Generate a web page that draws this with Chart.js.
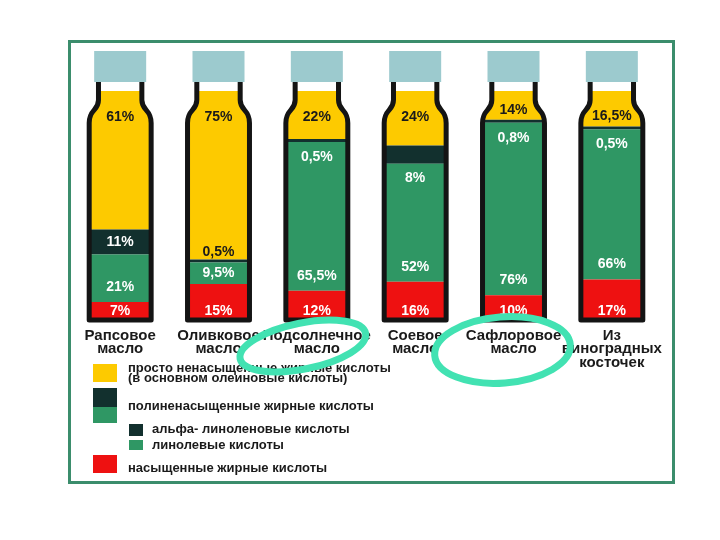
<!DOCTYPE html>
<html>
<head>
<meta charset="utf-8">
<script src="https://cdn.jsdelivr.net/npm/chart.js@4.4.0/dist/chart.umd.min.js"></script>
<style>
  html, body { margin: 0; padding: 0; background: #fff; }
  #wrap { position: relative; width: 720px; height: 540px; }
  #frame {
    position: absolute; left: 68px; top: 40px; width: 607px; height: 444px;
    border: 3px solid #3b8d6c; box-sizing: border-box;
  }
  #chart { position: absolute; left: 0; top: 0; }
</style>
</head>
<body>
<div id="wrap">
  <div id="frame"></div>
  <canvas id="chart" width="720" height="540"></canvas>
</div>
<script>
// categories and values (percent of fatty acids)
const categories = [
  ["Рапсовое", "масло"],
  ["Оливковое", "масло"],
  ["Подсолнечное", "масло"],
  ["Соевое", "масло"],
  ["Сафлоровое", "масло"],
  ["Из", "виноградных", "косточек"]
];
const mono = [61, 75, 22, 24, 14, 16.5];
const alpha = [11, 0.5, 0.5, 8, 0.8, 0.5];
const linoleic = [21, 9.5, 65.5, 52, 76, 66];
const saturated = [7, 15, 12, 16, 10, 17];

const legendMono = ["просто ненасыщенные жирные кислоты", "(в основном олеиновые кислоты)"];
const legendPoly = "полиненасыщенные жирные кислоты";
const legendAlpha = "альфа- линоленовые кислоты";
const legendLinoleic = "линолевые кислоты";
const legendSat = "насыщенные жирные кислоты";

const C_MONO = "#fdca00";
const C_ALPHA = "#12302e";
const C_LIN = "#2f9764";
const C_SAT = "#ee1111";
const C_CAP = "#9ccace";
const C_LINE = "#141414";
const C_TEXT = "#1a1a1a";
const C_MINT = "#42e2b2";
const FONT = '"Liberation Sans", Arial, sans-serif';

Chart.defaults.font.family = FONT;

const fmt = (v) => String(v).replace(".", ",") + "%";

function bottlePath(ctx, cx, hw, top, bottom) {
  const nw = hw * 0.7;
  ctx.moveTo(cx - nw, top - 9);
  ctx.lineTo(cx - nw, top + 9);
  ctx.bezierCurveTo(cx - nw, top + 20, cx - hw, top + 18, cx - hw, top + 32);
  ctx.lineTo(cx - hw, bottom + 2);
  ctx.lineTo(cx + hw, bottom + 2);
  ctx.lineTo(cx + hw, top + 32);
  ctx.bezierCurveTo(cx + hw, top + 18, cx + nw, top + 20, cx + nw, top + 9);
  ctx.lineTo(cx + nw, top - 9);
}

const bottles = {
  id: "bottles",
  beforeDatasetsDraw(chart) {
    const ctx = chart.ctx;
    const area = chart.chartArea;
    ctx.save();
    ctx.beginPath();
    chart.getDatasetMeta(0).data.forEach((bar) => {
      bottlePath(ctx, bar.x, bar.width / 2, area.top, area.bottom);
      ctx.closePath();
    });
    ctx.clip();
  },
  afterDatasetsDraw(chart) {
    const ctx = chart.ctx;
    const area = chart.chartArea;
    ctx.restore();

    const bars = chart.getDatasetMeta(0).data;
    ctx.save();
    ctx.strokeStyle = C_LINE;
    ctx.lineWidth = 5;
    ctx.lineJoin = "round";
    bars.forEach((bar) => {
      ctx.beginPath();
      bottlePath(ctx, bar.x, bar.width / 2, area.top, area.bottom);
      ctx.stroke();
      ctx.fillStyle = C_CAP;
      ctx.fillRect(bar.x - 26, area.top - 40, 52, 31);
    });

    // value labels
    ctx.font = "bold 14px " + FONT;
    ctx.textAlign = "center";
    ctx.textBaseline = "middle";
    const satBars = chart.getDatasetMeta(0).data;
    const linBars = chart.getDatasetMeta(1).data;
    const alphaBars = chart.getDatasetMeta(2).data;
    const monoBars = chart.getDatasetMeta(3).data;
    categories.forEach((c, i) => {
      const s = satBars[i], l = linBars[i], a = alphaBars[i], m = monoBars[i];
      ctx.fillStyle = "#fff";
      ctx.fillText(fmt(saturated[i]), s.x, s.base - 7);
      ctx.fillText(fmt(linoleic[i]), l.x, Math.max((l.y + l.base) / 2, l.base - 15));
      const h = a.base - a.y;
      if (h >= 24) {
        ctx.fillText(fmt(alpha[i]), a.x, (a.y + a.base) / 2);
      } else if (linoleic[i] < 20) {
        ctx.fillStyle = C_TEXT;
        ctx.fillText(fmt(alpha[i]), a.x, a.y - 7);
      } else {
        ctx.fillText(fmt(alpha[i]), a.x, a.base + 15);
      }
      ctx.fillStyle = C_TEXT;
      ctx.fillText(fmt(mono[i]), m.x, Math.min(area.top + 26, m.base - 10));
    });
    ctx.restore();
  },
  afterDraw(chart) {
    const ctx = chart.ctx;
    ctx.save();
    // legend
    ctx.font = "bold 13px " + FONT;
    ctx.textAlign = "left";
    ctx.textBaseline = "middle";
    ctx.fillStyle = C_MONO; ctx.fillRect(93, 364, 24, 18);
    ctx.fillStyle = C_ALPHA; ctx.fillRect(93, 388, 24, 19);
    ctx.fillStyle = C_LIN; ctx.fillRect(93, 407, 24, 16);
    ctx.fillStyle = C_ALPHA; ctx.fillRect(129, 424, 14, 12);
    ctx.fillStyle = C_LIN; ctx.fillRect(129, 440, 14, 10);
    ctx.fillStyle = C_SAT; ctx.fillRect(93, 455, 24, 18);
    ctx.fillStyle = C_TEXT;
    ctx.fillText(legendMono[0], 128, 368);
    ctx.fillText(legendMono[1], 128, 378);
    ctx.fillText(legendPoly, 128, 406);
    ctx.fillText(legendAlpha, 152, 429);
    ctx.fillText(legendLinoleic, 152, 445);
    ctx.fillText(legendSat, 128, 468);

    // hand-drawn marker loops
    const x = chart.scales.x;
    ctx.strokeStyle = C_MINT;
    ctx.lineWidth = 7;
    ctx.beginPath();
    ctx.ellipse(x.getPixelForValue(2) - 14, 346, 64, 23, -0.2, 0, Math.PI * 2);
    ctx.stroke();
    ctx.beginPath();
    ctx.ellipse(x.getPixelForValue(4) - 11, 350, 68, 33, -0.08, 0, Math.PI * 2);
    ctx.stroke();
    ctx.restore();
  }
};

new Chart(document.getElementById("chart"), {
  type: "bar",
  data: {
    labels: categories,
    datasets: [
      { label: legendSat, data: saturated, backgroundColor: C_SAT },
      { label: "линолевые", data: linoleic, backgroundColor: C_LIN },
      { label: "альфа-линоленовые", data: alpha, backgroundColor: C_ALPHA, minBarLength: 3 },
      { label: "мононенасыщенные", data: mono, backgroundColor: C_MONO }
    ]
  },
  options: {
    responsive: false,
    animation: false,
    events: [],
    layout: { padding: { top: 91, left: 71, right: 59, bottom: 0 } },
    datasets: { bar: { barPercentage: 0.63, categoryPercentage: 1 } },
    plugins: { legend: { display: false }, tooltip: { enabled: false } },
    scales: {
      x: {
        stacked: true,
        grid: { display: false, drawTicks: false },
        border: { display: false },
        ticks: {
          color: C_TEXT,
          font: { size: 15, weight: "bold", lineHeight: 0.9 },
          padding: 11,
          maxRotation: 0,
          autoSkip: false
        },
        afterFit: (s) => { s.height = 222; }
      },
      y: { stacked: true, display: false, min: 0, max: 100 }
    }
  },
  plugins: [bottles]
});
</script>
</body>
</html>
